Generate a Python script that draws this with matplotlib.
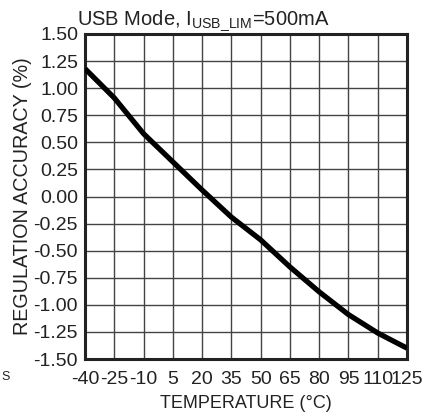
import matplotlib
matplotlib.use("Agg")
import matplotlib.pyplot as plt

plt.rcParams['font.family'] = ['Liberation Sans', 'DejaVu Sans']
plt.rcParams['mathtext.fontset'] = 'custom'
plt.rcParams['mathtext.rm'] = 'Liberation Sans'

temperature = [-40, -25, -10, 5, 20, 35, 50, 65, 80, 95, 110, 125]
accuracy = [1.18, 0.91, 0.58, 0.32, 0.06, -0.19, -0.40, -0.65, -0.88, -1.09, -1.26, -1.40]
x_ticks = [-40, -25, -10, 5, 20, 35, 50, 65, 80, 95, 110, 125]
y_ticks = [1.50, 1.25, 1.00, 0.75, 0.50, 0.25, 0.00, -0.25, -0.50, -0.75, -1.00, -1.25, -1.50]

W, H = 440, 418
fig = plt.figure(figsize=(W / 100, H / 100), dpi=100)
ax = fig.add_axes([85 / W, 1 - 359 / H, (407 - 85) / W, (359 - 34) / H])

ax.plot(temperature, accuracy, color='black', lw=3.8, solid_capstyle='butt', zorder=3)

ax.set_xlim(-40, 125)
ax.set_ylim(-1.5, 1.5)
ax.set_xticks(x_ticks)
ax.set_xticklabels([str(t) for t in x_ticks])
ax.set_yticks(y_ticks)
ax.set_yticklabels([f"{v:.2f}" for v in y_ticks])
ax.tick_params(axis='x', length=0, labelsize=14, pad=9, colors='#222222')
ax.tick_params(axis='y', length=0, labelsize=14, pad=5, colors='#222222')
ax.grid(True, color='#444444', lw=1.0)
ax.set_axisbelow(True)
for s in ax.spines.values():
    s.set_linewidth(2.2)
    s.set_color('#222222')

ax.set_xlabel('TEMPERATURE (°C)', fontsize=13, color='#222222', labelpad=5)
ax.set_ylabel('REGULATION ACCURACY (%)', fontsize=14.2, color='#222222', labelpad=1)

fig.text(77 / W, 1 - 25 / H, r'USB Mode, I$_{\mathregular{USB\_LIM}}$=500mA',
         fontsize=14.5, ha='left', va='baseline', color='#222222')
fig.text(1 / W, 1 - 377 / H, 'S', fontsize=9, ha='left', va='center', color='#222222')

fig.savefig('out.png', dpi=100)
